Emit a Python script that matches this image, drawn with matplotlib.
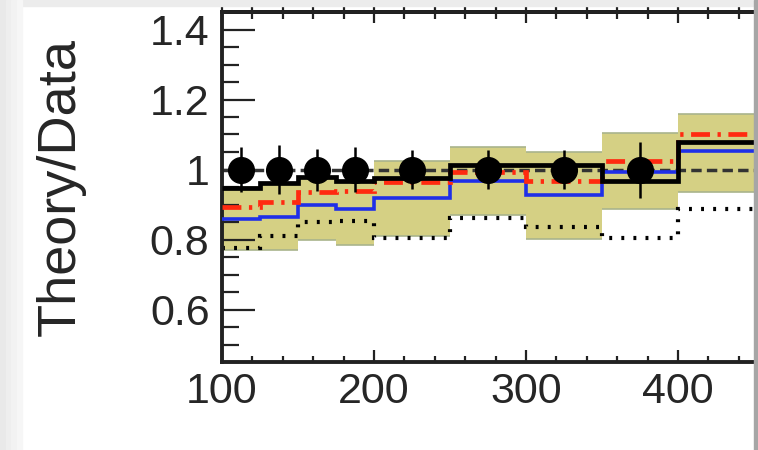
import matplotlib
matplotlib.use("Agg")
import matplotlib.pyplot as plt
import numpy as np
from matplotlib.patches import Rectangle
from matplotlib.ticker import MultipleLocator, FixedLocator, FuncFormatter

# bin edges (x) and per-bin ratios
bin_edges = [100, 125, 150, 175, 200, 250, 300, 350, 400, 450]
band_low = [0.770, 0.770, 0.800, 0.785, 0.810, 0.870, 0.802, 0.886, 0.937]
band_high = [0.950, 0.961, 0.978, 0.966, 1.023, 1.063, 1.049, 1.105, 1.158]
black_ratio = [0.948, 0.961, 0.978, 0.966, 0.975, 1.012, 1.012, 0.967, 1.078]
red_ratio = [0.893, 0.906, 0.937, 0.940, 0.963, 0.993, 0.966, 1.025, 1.100]
blue_ratio = [0.859, 0.864, 0.898, 0.887, 0.920, 0.966, 0.928, 0.992, 1.052]
dotted_ratio = [0.777, 0.811, 0.849, 0.852, 0.803, 0.862, 0.835, 0.805, 0.887]

data_x = [112.5, 137.5, 162.5, 187.5, 225, 275, 325, 375]
data_y = [1.0, 1.0, 1.0, 1.0, 1.0, 1.0, 1.0, 1.0]
data_err = [0.065, 0.070, 0.060, 0.065, 0.056, 0.056, 0.056, 0.080]

y_ticks = [0.6, 0.8, 1.0, 1.2, 1.4]
x_ticks = [100, 200, 300, 400]

plt.rcParams["font.family"] = ["Liberation Sans", "DejaVu Sans"]
text_color = "#262626"

fig = plt.figure(figsize=(7.58, 4.5), dpi=100)
fig.patch.set_facecolor("white")
ax = fig.add_axes([222 / 758, 88 / 450, 536 / 758, 350 / 450])

edges = np.array(bin_edges)
low = np.array(band_low)
high = np.array(band_high)

# uncertainty band
ax.stairs(high, edges, baseline=low, fill=True, color="#d5d084", lw=0, zorder=1)
ax.hlines(high, edges[:-1], edges[1:], color="#a9b48c", lw=1.2, zorder=1.5)
ax.hlines(low, edges[:-1], edges[1:], color="#a9b48c", lw=1.2, zorder=1.5)

ax.axhline(1.0, color="#333333", lw=2.5, ls=(0, (3, 1.5)), zorder=2)
ax.stairs(dotted_ratio, edges, baseline=None, color="black", lw=3,
          ls=(0, (0.7, 2.2)), zorder=2.5)
ax.stairs(blue_ratio, edges, baseline=None, color="#1f2fe8", lw=2.6, zorder=3)
ax.stairs(red_ratio, edges, baseline=None, color="#ff2a10", lw=3.4,
          ls=(0, (4, 1.6, 0.7, 1.6)), zorder=3.5)
ax.stairs(black_ratio, edges, baseline=None, color="black", lw=3.4, zorder=4)

ax.errorbar(data_x, data_y, yerr=data_err, fmt="o", color="black",
            ms=18.5, elinewidth=1.8, capsize=0, zorder=5)

ax.set_xlim(100, 100 + 536 / 1.52)
ax.set_ylim(0.45, 1.45)

ax.xaxis.set_major_locator(FixedLocator(x_ticks))
ax.xaxis.set_minor_locator(MultipleLocator(20))
ax.yaxis.set_major_locator(FixedLocator(y_ticks))
ax.yaxis.set_minor_locator(MultipleLocator(0.05))
ax.yaxis.set_major_formatter(FuncFormatter(lambda v, p: f"{v:g}"))

ax.tick_params(axis="both", which="both", direction="in", colors="#222222",
               labelsize=31, labelcolor=text_color, width=1.6)
ax.tick_params(axis="y", which="major", length=24, pad=9)
ax.tick_params(axis="y", which="minor", length=12)
ax.tick_params(axis="x", which="major", length=9, pad=7, top=False)
ax.tick_params(axis="x", which="minor", length=4, top=False)

top = ax.secondary_xaxis("top")
top.xaxis.set_major_locator(FixedLocator(x_ticks))
top.xaxis.set_minor_locator(MultipleLocator(20))
top.tick_params(which="both", direction="inout", labeltop=False,
                colors="#222222", width=1.6)
top.tick_params(which="major", length=16)
top.tick_params(which="minor", length=10)
top.spines["top"].set_linewidth(2.8)

for side in ["left", "bottom", "top"]:
    ax.spines[side].set_linewidth(2.8)
    ax.spines[side].set_color("#222222")
ax.spines["right"].set_visible(False)

fig.text(61 / 758, 1 - 187 / 450, "Theory/Data", rotation=90,
         ha="center", va="center", fontsize=39, color=text_color)

# light frame around the screenshot
fig.patches.append(Rectangle((0, 1 - 6 / 450), 1, 6 / 450,
                             transform=fig.transFigure, color="#ececec",
                             zorder=10))
for i, shade in enumerate(["#e9e9e9", "#eeeeee", "#f2f2f2", "#f6f6f6"]):
    fig.patches.append(Rectangle((i * 5.5 / 758, 0), 5.5 / 758, 1,
                                 transform=fig.transFigure, color=shade,
                                 zorder=10))
fig.patches.append(Rectangle((754 / 758, 0), 4 / 758, 1,
                             transform=fig.transFigure, color="#a6a6a6",
                             zorder=10))

fig.savefig("out.png", dpi=100)
